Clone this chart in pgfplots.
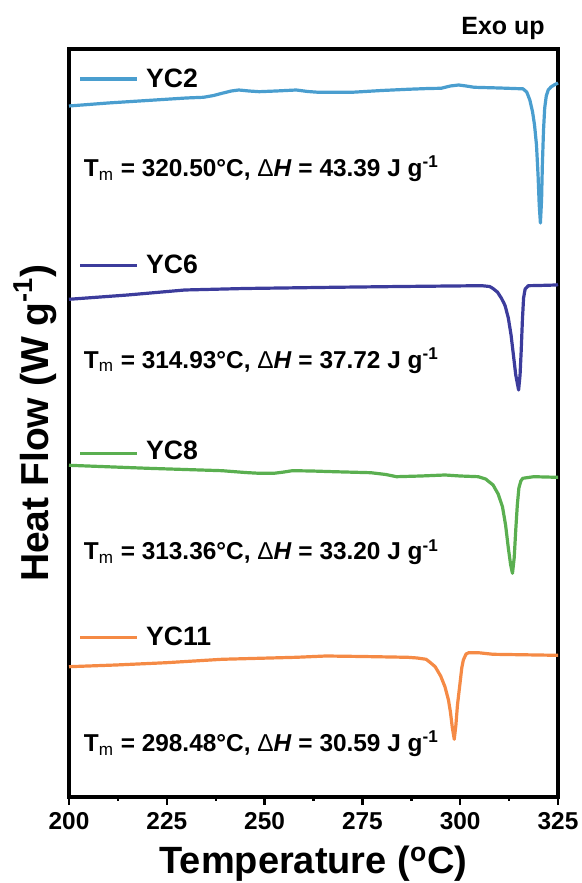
\documentclass[border=0pt]{standalone}
\usepackage{fontspec}
\setmainfont{Liberation Sans}
\usepackage{pgfplots}
\pgfplotsset{compat=1.18}
\usepackage{pgfplotstable}

\definecolor{cYCtwo}{HTML}{4A9ECF}
\definecolor{cYCsix}{HTML}{3C3C9C}
\definecolor{cYCeight}{HTML}{5AAF50}
\definecolor{cYCeleven}{HTML}{F58A45}

% DSC heating traces, vertically offset (arbitrary heat-flow units)
\pgfplotstableread{
T y
200 691
210 694
220 696.5
230 699
234.4 699.7
237 701.5
239.1 703.7
241.5 706
243.4 707
246 706
248.6 705.3
253 706
258.1 707
261 705.5
263.8 704.7
272.3 704.7
280 706.5
286.6 707.7
292 708.5
295.1 708.7
297.5 711
299.6 712
301.5 711
303.6 709.7
310 709
315 708.3
316.0 708.3
317.0 705
317.8 697
318.5 685
319.0 672
319.5 652
319.9 622
320.2 592
320.5 574
320.8 597
321.0 632
321.3 667
321.6 689
322.0 701
322.5 707
323.2 710
324.0 712
325.0 714
}\yctwo

\pgfplotstableread{
T y
200 497.7
215 502
229.6 507
245 508.5
267.6 509.7
285 510.5
305.5 511.3
307.5 510.5
308.3 508.7
309.5 505
310.5 499
311.2 493.7
311.5 491
312.3 479
313.0 462
313.6 442
314.2 422
314.93 407
315.3 422
315.6 447
315.9 477
316.2 499
316.6 508
317.4 511.3
320 511.5
324.6 512
325 512.5
}\ycsix

\pgfplotstableread{
T y
200 331.7
220.1 328.7
239.1 326.3
245 324.5
248.6 323.7
252.4 323.7
255 325
257.1 326.3
262 326
267.6 325.3
277.1 324.3
281 322.5
283.7 320.3
290 321
296.1 322
300 321
304.6 320.3
306.5 318
308.4 312
309.7 303
310.8 290.3
311.6 272
312.3 249
312.9 232
313.36 223.7
313.8 239
314.2 267
314.6 292
315.0 309
315.5 316
316.0 318.7
318.8 320.3
324.6 319.7
325 319.7
}\yceight

\pgfplotstableread{
T y
200 130.3
212 132
224.9 134.3
239.1 137.7
258.1 139.7
265.7 141
275 140.5
286.6 139.7
289 139
291.3 137.7
292.5 134
293.6 130.3
295 121
296.1 110.3
297.0 97
297.5 85
298.0 69
298.48 57.7
298.9 72
299.3 92
299.9 112
300.4 129
300.8 137
301.5 143
302.2 144.3
304.6 144.3
308.4 142.7
324.6 141.7
325 141.7
}\yceleven

\newcommand{\annot}[2]{T\textsubscript{\mdseries m} = #1°C, {\mdseries Δ}\textit{H} = #2 J g\textsuperscript{-1}}

\begin{document}
\begin{tikzpicture}
\useasboundingbox (-34.5pt,-43pt) rectangle (256.5pt,398.5pt);
\begin{axis}[
  at={(0,0)}, anchor=south west,
  scale only axis,
  width=244.5pt, height=374pt,
  xmin=200, xmax=325, ymin=0, ymax=748,
  clip=false,
  axis line style={line width=1.6pt},
  xtick={200,225,...,325},
  minor x tick num=1,
  xtick pos=bottom,
  ytick=\empty,
  tick align=outside,
  major tick length=4pt,
  minor tick length=1.8pt,
  every tick/.style={black, line width=1.2pt},
  /pgf/number format/assume math mode=true,
  xticklabel style={font=\fontsize{12.2}{14}\selectfont\bfseries},
  every axis plot/.append style={line width=1.6pt, line join=round},
]
\addplot[cYCtwo] table[x=T,y=y]{\yctwo};
\addplot[cYCsix] table[x=T,y=y]{\ycsix};
\addplot[cYCeight] table[x=T,y=y]{\yceight};
\addplot[cYCeleven] table[x=T,y=y]{\yceleven};

% legend samples
\addplot[cYCtwo] coordinates {(202.9,718) (217.3,718)};
\addplot[cYCsix] coordinates {(202.9,531.3) (217.3,531.3)};
\addplot[cYCeight] coordinates {(202.9,343.7) (217.3,343.7)};
\addplot[cYCeleven] coordinates {(202.9,159.7) (217.3,159.7)};

\begin{scope}[every node/.style={inner sep=0pt, anchor=base west, font=\fontsize{13.3}{15}\selectfont\bfseries}]
\node at (axis cs:219.6,709.7) {YC2};
\node at (axis cs:219.6,523.7) {YC6};
\node at (axis cs:219.6,337) {YC8};
\node at (axis cs:219.6,151) {YC11};
\end{scope}

\begin{scope}[every node/.style={inner sep=0pt, anchor=base west, font=\fontsize{12.2}{14}\selectfont\bfseries}]
\node at (axis cs:203.7,620.3) {\annot{320.50}{43.39}};
\node at (axis cs:203.7,428.7) {\annot{314.93}{37.72}};
\node at (axis cs:203.7,237) {\annot{313.36}{33.20}};
\node at (axis cs:203.7,45.3) {\annot{298.48}{30.59}};
\end{scope}

\node[inner sep=0pt, anchor=base east, font=\fontsize{12.5}{14}\selectfont\bfseries]
  at (axis cs:321.7,762) {Exo up};

\node[inner sep=0pt, anchor=base, font=\fontsize{19}{22}\selectfont\bfseries]
  at (axis description cs:0.5,-0.1029) {Temperature (\textsuperscript{o}C)};
\node[inner sep=0pt, anchor=base, rotate=90, font=\fontsize{19.5}{22}\selectfont\bfseries]
  at (axis description cs:-0.0429,0.5) {Heat Flow (W g\textsuperscript{-1})};
\end{axis}
\end{tikzpicture}
\end{document}
